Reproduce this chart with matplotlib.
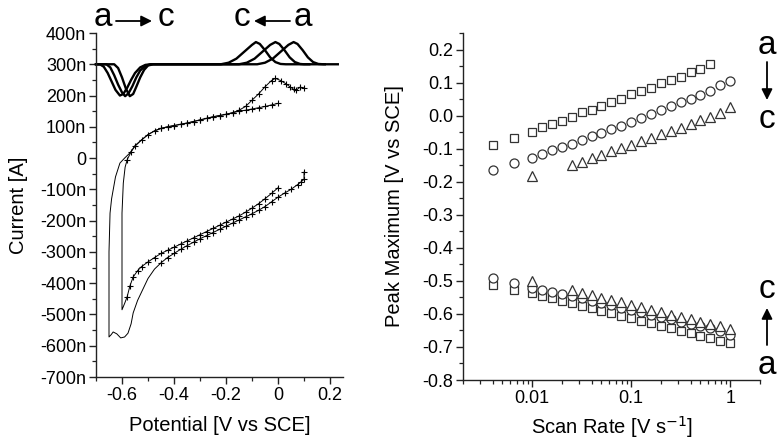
import numpy as np
import matplotlib
matplotlib.use('Agg')
import matplotlib.pyplot as plt
from matplotlib.ticker import MultipleLocator, FuncFormatter, FixedLocator, LogLocator, NullFormatter

plt.rcParams['font.family'] = ['Liberation Sans', 'DejaVu Sans']
plt.rcParams['axes.unicode_minus'] = False

# ---- left panel: cyclic voltammograms (potential in V, current in nA)
cv_outer_E = [0.100, 0.085, 0.070, 0.060, 0.046, 0.030, 0.010, -0.010, -0.025, -0.050, -0.075, -0.100,
              -0.125, -0.150, -0.175, -0.200, -0.225, -0.250, -0.275, -0.300, -0.325, -0.350, -0.375,
              -0.400, -0.425, -0.450, -0.475, -0.500, -0.525, -0.550, -0.570, -0.590,
              -0.608, -0.625, -0.640, -0.646, -0.650, -0.650,
              -0.642, -0.634, -0.620, -0.605, -0.590, -0.577, -0.565, -0.557, -0.540, -0.520, -0.500,
              -0.475, -0.450, -0.425, -0.400, -0.375, -0.350, -0.325, -0.300, -0.275, -0.250, -0.225,
              -0.200, -0.175, -0.150, -0.125, -0.100, -0.075, -0.050, -0.025, 0.000, 0.025, 0.050,
              0.075, 0.090, 0.100, 0.100]
cv_outer_I = [224, 227, 217, 220, 228, 238, 248, 255, 248, 228, 205, 185,
              165, 153, 145, 140, 136, 132, 127, 122, 117, 112, 108,
              104, 100, 95, 87, 75, 58, 38, 16, 0,
              -16, -60, -130, -176, -300, -572,
              -565, -556, -562, -575, -572, -560, -530, -495, -455, -420, -385,
              -355, -335, -318, -305, -292, -280, -269, -258, -248, -238, -228,
              -218, -208, -198, -188, -178, -167, -155, -140, -125, -112, -100,
              -85, -75, -68, -45]
cv_inner_E = [0.000, -0.025, -0.050, -0.075, -0.100, -0.125, -0.150, -0.175, -0.200, -0.225, -0.250,
              -0.275, -0.300, -0.325, -0.350, -0.375, -0.400, -0.425, -0.450, -0.475, -0.500, -0.525,
              -0.550, -0.565, -0.580, -0.588, -0.595, -0.600, -0.600,
              -0.590, -0.580, -0.570, -0.557, -0.540, -0.525, -0.500, -0.475, -0.450, -0.425, -0.400,
              -0.375, -0.350, -0.325, -0.300, -0.275, -0.250, -0.225, -0.200, -0.175, -0.150, -0.125,
              -0.100, -0.075, -0.050, -0.025, 0.000]
cv_inner_I = [175, 170, 165, 161, 157, 153, 150, 145, 140, 136, 132,
              127, 122, 117, 112, 108, 104, 100, 95, 87, 75, 58,
              40, 20, -5, -29, -80, -176, -485,
              -465, -443, -410, -380, -360, -347, -332, -318, -305, -295, -285,
              -275, -265, -255, -245, -235, -225, -215, -205, -195, -185, -173,
              -160, -146, -130, -113, -95]

# ---- simulated peaks on top (offset by 300 nA)
sim_a_E = [-0.700, -0.685, -0.670, -0.655, -0.640, -0.625, -0.608, -0.595, -0.580, -0.565, -0.550, -0.530,
           -0.510, -0.490, -0.080, -0.050, -0.020, 0.010, 0.040, 0.060, 0.075, 0.095, 0.115, 0.135,
           0.155, 0.175, 0.230]
sim_a_I = [300, 300, 292, 272, 245, 218, 200, 205, 225, 250, 272, 290,
           298, 300, 300, 305, 318, 340, 362, 371, 365, 345, 322, 307,
           301, 300, 300]
sim_b_E = [-0.700, -0.660, -0.645, -0.630, -0.615, -0.600, -0.588, -0.575, -0.560, -0.545, -0.530, -0.510,
           -0.490, -0.150, -0.120, -0.090, -0.060, -0.030, -0.010, 0.005, 0.025, 0.045, 0.065, 0.085,
           0.100, 0.180]
sim_b_I = [300, 300, 290, 265, 235, 210, 198, 207, 230, 258, 280, 295,
           300, 300, 305, 318, 340, 362, 371, 365, 345, 322, 307, 301,
           300, 300]
sim_c_E = [-0.700, -0.630, -0.615, -0.600, -0.585, -0.570, -0.557, -0.545, -0.530, -0.515, -0.500, -0.480,
           -0.220, -0.190, -0.160, -0.130, -0.100, -0.085, -0.070, -0.050, -0.030, -0.010, 0.010,
           0.030, 0.120]
sim_c_I = [300, 300, 288, 258, 222, 198, 205, 228, 258, 282, 296, 300,
           300, 305, 318, 340, 362, 371, 365, 345, 322, 307, 301,
           300, 300]

# ---- right panel: peak maxima vs scan rate
rates = [0.004, 0.0065, 0.01, 0.0126, 0.0158, 0.02, 0.025, 0.0316, 0.0398, 0.0501, 0.0631, 0.0794,
         0.1, 0.126, 0.158, 0.2, 0.251, 0.316, 0.398, 0.501, 0.631, 0.794, 1.0]
ox_sq = [-0.088, -0.068, -0.049, -0.034, -0.025, -0.015, -0.005, 0.010, 0.018, 0.030, 0.041, 0.051,
         0.066, 0.076, 0.085, 0.098, 0.108, 0.118, 0.131, 0.140, 0.156]
ox_ci = [-0.166, -0.143, -0.128, -0.115, -0.105, -0.095, -0.085, -0.075, -0.063, -0.053, -0.041, -0.030,
         -0.018, -0.007, 0.005, 0.016, 0.028, 0.040, 0.051, 0.063, 0.076, 0.092, 0.106]
ox_tr = [-0.184, -0.148, -0.139, -0.129, -0.119, -0.108, -0.098, -0.088, -0.077, -0.067, -0.057, -0.046,
         -0.036, -0.025, -0.013, -0.004, 0.008, 0.026]
red_sq = [-0.512, -0.527, -0.537, -0.545, -0.553, -0.560, -0.567, -0.575, -0.583, -0.590, -0.598, -0.605,
          -0.613, -0.620, -0.628, -0.636, -0.643, -0.651, -0.658, -0.666, -0.674, -0.681, -0.689]
red_ci = [-0.492, -0.507, -0.522, -0.527, -0.533, -0.539, -0.546, -0.553, -0.560, -0.567, -0.574, -0.581,
          -0.588, -0.595, -0.602, -0.609, -0.616, -0.623, -0.630, -0.637, -0.644, -0.652, -0.664]
red_tr = [-0.499, -0.529, -0.536, -0.544, -0.551, -0.558, -0.565, -0.573, -0.580, -0.587, -0.594, -0.602,
          -0.609, -0.616, -0.623, -0.631, -0.638, -0.645]
tr_rates = [rates[2]] + rates[6:]

W, H = 779, 445
fig = plt.figure(figsize=(W / 100, H / 100), dpi=100)

def fx(px):
    return px / W

def fy(py):
    return 1 - py / H

def style_axes(ax):
    for s in ['top', 'right']:
        ax.spines[s].set_visible(False)
    for s in ['left', 'bottom']:
        ax.spines[s].set_linewidth(1.0)
        ax.spines[s].set_color('#222222')
    ax.tick_params(which='major', direction='out', length=5, width=1.0, labelsize=13, color='#222222',
                   pad=2)
    ax.tick_params(which='minor', direction='out', length=3, width=0.9, color='#222222')

# left axes
ax1 = fig.add_axes([fx(96), fy(377), fx(343 - 96), (377 - 33) / H])
style_axes(ax1)
for E, I in [(sim_a_E, sim_a_I), (sim_b_E, sim_b_I), (sim_c_E, sim_c_I)]:
    ax1.plot(E, I, color='black', lw=1.7, clip_on=False, solid_joinstyle='round')

for E, I, cut in [(cv_outer_E, cv_outer_I, -0.46), (cv_inner_E, cv_inner_I, -0.585)]:
    E = np.array(E)
    I = np.array(I)
    ax1.plot(E, I, color='black', lw=0.7)
    m = E > cut
    ax1.plot(E[m], I[m], ls='none', marker='+', ms=4.5, mew=0.8, color='black')

ax1.set_xlim(-0.7, 0.25)
ax1.set_ylim(-700, 400)
ax1.xaxis.set_major_locator(FixedLocator([-0.6, -0.4, -0.2, 0.0, 0.2]))
ax1.xaxis.set_minor_locator(MultipleLocator(0.1))
ax1.xaxis.set_major_formatter(FuncFormatter(lambda v, p: '0' if abs(v) < 1e-9 else '%.1f' % v))
ax1.yaxis.set_major_locator(MultipleLocator(100))
ax1.yaxis.set_minor_locator(MultipleLocator(50))
ax1.yaxis.set_major_formatter(FuncFormatter(lambda v, p: '0' if abs(v) < 1e-9 else '%dn' % round(v)))
ax1.set_xlabel('Potential [V vs SCE]', fontsize=14.5, labelpad=9)
ax1.set_ylabel('Current [A]', fontsize=14.5, labelpad=9)

# right axes
ax2 = fig.add_axes([fx(463), fy(380), fx(760 - 463), (380 - 33) / H])
style_axes(ax2)
mk = dict(ls='none', mfc='white', color='#333333', mew=0.9, clip_on=False)
ax2.plot(rates[:len(ox_sq)], ox_sq, marker='s', ms=6, **mk)
ax2.plot(rates, ox_ci, marker='o', ms=6.5, **mk)
ax2.plot(tr_rates, ox_tr, marker='^', ms=7, **mk)
ax2.plot(rates, red_sq, marker='s', ms=6, **mk)
ax2.plot(rates, red_ci, marker='o', ms=6.5, **mk)
ax2.plot(tr_rates, red_tr, marker='^', ms=7, **mk)
ax2.set_xscale('log')
ax2.set_xlim(0.002, 2)
ax2.set_ylim(-0.8, 0.25)
ax2.xaxis.set_major_locator(FixedLocator([0.01, 0.1, 1]))
ax2.xaxis.set_major_formatter(FuncFormatter(lambda v, p: '%g' % v))
ax2.xaxis.set_minor_locator(LogLocator(base=10, subs=np.arange(2, 10)))
ax2.xaxis.set_minor_formatter(NullFormatter())
ax2.yaxis.set_major_locator(FixedLocator(np.round(np.arange(-0.8, 0.21, 0.1), 1)))
ax2.yaxis.set_minor_locator(MultipleLocator(0.05))
ax2.yaxis.set_major_formatter(FuncFormatter(lambda v, p: '%.1f' % (0.0 if abs(v) < 1e-9 else v)))
ax2.set_xlabel('Scan Rate [V s$^{-1}$]', fontsize=14.5, labelpad=5)
ax2.set_ylabel('Peak Maximum [V vs SCE]', fontsize=14.5, labelpad=13)

# a -> c labels
big = dict(fontsize=24, ha='center', va='center')
arrow = dict(arrowstyle='-|>', lw=1.3, color='black', mutation_scale=16, shrinkA=0, shrinkB=0)
fig.text(fx(103), fy(18), 'a', **big)
fig.text(fx(166), fy(18), 'c', **big)
ax1.annotate('', xy=(fx(152), fy(21)), xytext=(fx(116), fy(21)), xycoords='figure fraction',
             textcoords='figure fraction', arrowprops=arrow)
fig.text(fx(242), fy(18), 'c', **big)
fig.text(fx(303), fy(18), 'a', **big)
ax1.annotate('', xy=(fx(254), fy(21)), xytext=(fx(290), fy(21)), xycoords='figure fraction',
             textcoords='figure fraction', arrowprops=arrow)

fig.text(fx(767), fy(45), 'a', **big)
fig.text(fx(767), fy(120), 'c', **big)
ax2.annotate('', xy=(fx(767), fy(100)), xytext=(fx(767), fy(62)), xycoords='figure fraction',
             textcoords='figure fraction', arrowprops=arrow)
fig.text(fx(767), fy(290), 'c', **big)
fig.text(fx(767), fy(365), 'a', **big)
ax2.annotate('', xy=(fx(767), fy(308)), xytext=(fx(767), fy(345)), xycoords='figure fraction',
             textcoords='figure fraction', arrowprops=arrow)

fig.savefig('out.png', dpi=100)
